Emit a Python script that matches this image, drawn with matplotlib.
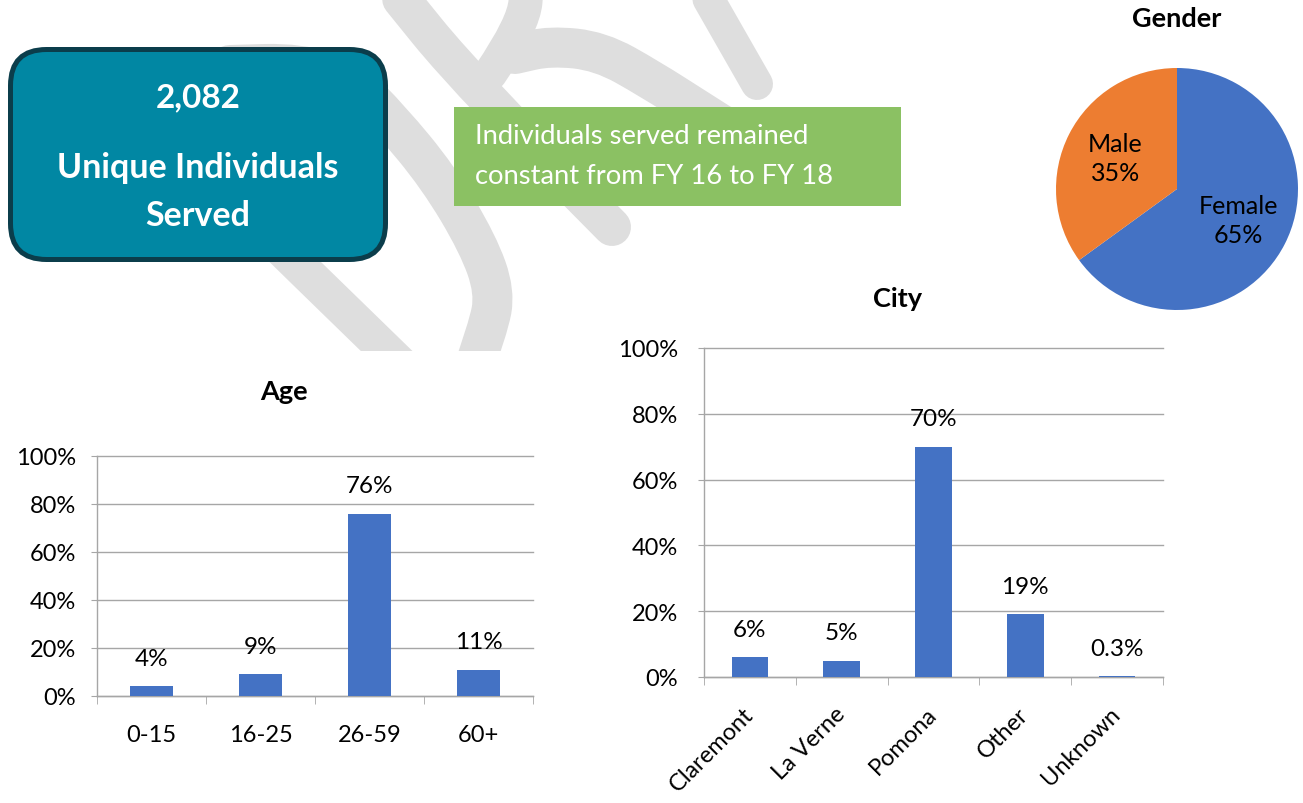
import matplotlib
matplotlib.use('Agg')
import matplotlib.pyplot as plt
from matplotlib.patches import FancyBboxPatch, Rectangle, PathPatch
from matplotlib.path import Path
from matplotlib.ticker import PercentFormatter, FixedLocator
import numpy as np

plt.rcParams['font.family'] = ['Lato', 'DejaVu Sans']

# ---------------- data ----------------
age_categories = ['0-15', '16-25', '26-59', '60+']
age_values = [0.04, 0.09, 0.76, 0.11]
age_labels = ['4%', '9%', '76%', '11%']

city_categories = ['Claremont', 'La Verne', 'Pomona', 'Other', 'Unknown']
city_values = [0.06, 0.05, 0.70, 0.19, 0.003]
city_labels = ['6%', '5%', '70%', '19%', '0.3%']

gender_categories = ['Female', 'Male']
gender_values = [65, 35]

y_ticks = [0.0, 0.2, 0.4, 0.6, 0.8, 1.0]

total_served = '2,082'
headline_lines = ['Unique Individuals', 'Served']
note_lines = ['Individuals served remained', 'constant from FY 16 to FY 18']

# ---------------- style ----------------
W, H = 1303, 804
BLUE = '#4472C4'
ORANGE = '#ED7D31'
GRID = '#A6A6A6'
TEAL = '#0187A3'
TEAL_EDGE = '#0B3D4B'
GREEN = '#8BC163'
WM = '#DEDEDE'
FS = 17
TFS = 19.5

fig = plt.figure(figsize=(W / 100, H / 100), dpi=100)

bg = fig.add_axes([0, 0, 1, 1], zorder=0)
bg.set_xlim(0, W)
bg.set_ylim(H, 0)
bg.axis('off')


def smooth_path(pts):
    pts = [np.array(p, float) for p in pts]
    verts = [pts[0]]
    codes = [Path.MOVETO]
    if len(pts) == 2:
        verts.append(pts[1]); codes.append(Path.LINETO)
        return Path(verts, codes)
    verts.append((pts[0] + pts[1]) / 2); codes.append(Path.LINETO)
    for i in range(1, len(pts) - 1):
        verts.append(pts[i]); codes.append(Path.CURVE3)
        end = (pts[i] + pts[i + 1]) / 2 if i < len(pts) - 2 else pts[i + 1]
        verts.append(end); codes.append(Path.CURVE3)
    return Path(verts, codes)


# decorative watermark (background)
clip = Rectangle((0, -60), W, 352 + 60, transform=bg.transData)
bands = [
    ([(385, -20), (470, 85), (612, 228)], 38),
    ([(527, -20), (524, 25), (490, 75)], 34),
    ([(515, 55), (550, 47), (600, 52), (650, 80), (700, 112), (760, 150)], 40),
    ([(697, -20), (757, 85)], 32),
    ([(230, 66), (300, 64), (352, 82), (390, 120), (438, 178), (478, 245),
      (495, 293), (488, 330), (470, 380)], 40),
    ([(180, 150), (295, 263), (400, 365)], 36),
]
for pts, w in bands:
    pp = PathPatch(smooth_path(pts), fill=False, edgecolor=WM, lw=w * 0.72,
                   capstyle='round', joinstyle='round', zorder=1)
    bg.add_patch(pp)
    pp.set_clip_path(clip)

# teal KPI box
bg.add_patch(FancyBboxPatch((10.5, 50.5), 375, 210,
                            boxstyle='round,pad=0,rounding_size=36',
                            facecolor=TEAL, edgecolor=TEAL_EDGE, lw=3.6, zorder=5))
bg.text(198, 98, total_served, color='white', fontsize=24, fontweight='bold',
        ha='center', va='center', zorder=6)
for txt, yy in zip(headline_lines, [168, 216]):
    bg.text(198, yy, txt, color='white', fontsize=24.5, fontweight='bold',
            ha='center', va='center', zorder=6)

# green note box
bg.add_patch(Rectangle((454, 108), 447, 99, facecolor=GREEN, edgecolor='none', zorder=5))
for txt, yy in zip(note_lines, [137, 177]):
    bg.text(475, yy, txt, color='white', fontsize=19.7, ha='left', va='center', zorder=6)


def px_axes(x0, y0, x1, y1):
    return fig.add_axes([x0 / W, 1 - y1 / H, (x1 - x0) / W, (y1 - y0) / H], zorder=3)


def bar_chart(ax, cats, vals, labels, ypad):
    x = np.arange(len(cats))
    ax.patch.set_alpha(0)
    ax.bar(x, vals, width=0.4, color=BLUE, zorder=3)
    ax.set_xlim(-0.5, len(cats) - 0.5)
    ax.set_ylim(0, 1)
    ax.yaxis.set_major_locator(FixedLocator(y_ticks))
    ax.yaxis.set_major_formatter(PercentFormatter(1.0, decimals=0))
    ax.grid(axis='y', color=GRID, lw=1.0, zorder=0)
    for gl in ax.get_ygridlines():
        gl.set_clip_on(False)
    for s in ['top', 'right']:
        ax.spines[s].set_visible(False)
    for s in ['left', 'bottom']:
        ax.spines[s].set_color(GRID)
        ax.spines[s].set_linewidth(1.0)
    ax.tick_params(axis='y', length=4, color=GRID, pad=ypad, labelsize=FS)
    ax.set_xticks(x)
    ax.set_xticks(np.arange(len(cats) + 1) - 0.5, minor=True)
    ax.tick_params(axis='x', which='minor', length=6, color=GRID)
    for xi, v, lab in zip(x, vals, labels):
        ax.annotate(lab, (xi, v), xytext=(0, 20), textcoords='offset points',
                    ha='center', va='center', fontsize=17.5)
    return x


# Age chart
ax_age = px_axes(97, 457, 533, 697)
bar_chart(ax_age, age_categories, age_values, age_labels, 11)
ax_age.set_xticklabels(age_categories, fontsize=FS)
ax_age.tick_params(axis='x', which='major', length=0, pad=20)
fig.text(284 / W, 1 - 392 / H, 'Age', fontsize=TFS, fontweight='bold', ha='center', va='center')

# City chart
ax_city = px_axes(704, 349, 1163, 678)
bar_chart(ax_city, city_categories, city_values, city_labels, 14.5)
ax_city.set_xticklabels(city_categories, fontsize=FS, rotation=45, ha='right',
                        va='center', rotation_mode='anchor')
ax_city.tick_params(axis='x', which='major', length=0, pad=24)
fig.text(898 / W, 1 - 299 / H, 'City', fontsize=TFS, fontweight='bold', ha='center', va='center')

# Gender pie
ax_pie = px_axes(1056, 69, 1298, 311)
wedges, _, autotexts = ax_pie.pie(gender_values, colors=[BLUE, ORANGE], startangle=90,
                                  counterclock=False, radius=1, autopct='%1.0f%%',
                                  pctdistance=0.57, wedgeprops=dict(linewidth=0),
                                  textprops=dict(fontsize=18))
for t, name in zip(autotexts, gender_categories):
    t.set_text(f'{name}\n{t.get_text()}')
    t.set_linespacing(1.3)
    t.set_ha('center')
    t.set_va('center')
ax_pie.set_xlim(-1, 1)
ax_pie.set_ylim(-1, 1)
ax_pie.set_aspect('equal')
fig.text(1177 / W, 1 - 19 / H, 'Gender', fontsize=TFS, fontweight='bold', ha='center', va='center')

fig.savefig('out.png', dpi=100)
